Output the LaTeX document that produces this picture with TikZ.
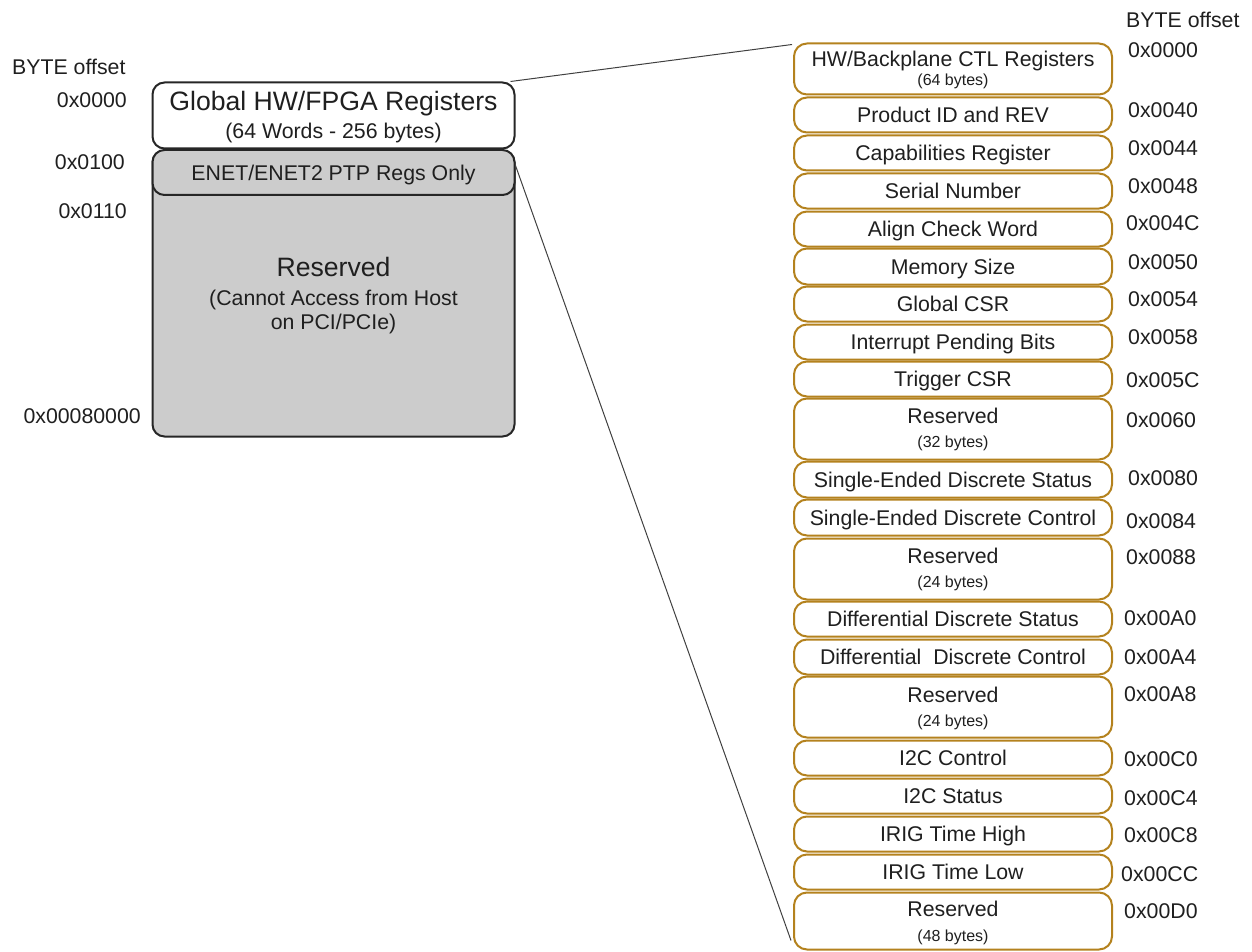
\documentclass[tikz,border=0pt]{standalone}
\usepackage{fontspec}
\setmainfont{Liberation Sans}
\definecolor{gold}{RGB}{180,130,30}
\definecolor{boxgray}{RGB}{204,204,204}
\begin{document}
\begin{tikzpicture}[x=1pt,y=-1pt,
  fm/.style={font=\fontsize{21.3}{25}\selectfont},
  fb/.style={font=\fontsize{26.6}{30}\selectfont},
  fsm/.style={font=\fontsize{16}{19}\selectfont},
  reg/.style={draw=gold, line width=2pt, rounded corners=13pt, fill=white, minimum width=318pt, inner sep=0pt, fm, text height=15.3pt, text depth=0pt, text=black!88},
  lbox/.style={draw=black!85, line width=2pt, rounded corners=12pt, minimum width=362pt, inner sep=0pt, text=black!88},
  off/.style={fm, inner sep=0pt, anchor=base west, text=black!88},
  loff/.style={fm, inner sep=0pt, anchor=base east, text=black!88},
  txt/.style={inner sep=0pt, anchor=base, text=black!88},
  link/.style={draw=black!75, line width=1pt}
]
\useasboundingbox (0,0) rectangle (1252,952);

% ---------- left panel ----------
\node[lbox, fill=boxgray, minimum height=286pt] (res) at (333.5,293.5) {};
\node[lbox, fill=boxgray, minimum height=45pt, fm, text height=15.3pt, text depth=0pt] (enet) at (333.5,172.5) {ENET/ENET2 PTP Regs Only};
\node[lbox, fill=white, minimum height=66pt] (glob) at (333.5,115.5) {};
\node[txt, fb] (globt) at (333.5,110.5) {Global HW/FPGA Registers};
\node[txt, fm] (globs) at (333.5,139) {(64 Words - 256 bytes)};
\node[txt, fb] (rest) at (333.5,276) {Reserved};
\node[txt, fm] (ress1) at (333.5,305.5) {(Cannot Access from Host};
\node[txt, fm] (ress2) at (333.5,329.5) {on PCI/PCIe)};

\node[off] (lbyte) at (12,74.6) {BYTE offset};
\node[loff] (lo1) at (127,107.6) {0x0000};
\node[loff] (lo2) at (125,169.6) {0x0100};
\node[loff] (lo3) at (127,218.6) {0x0110};
\node[loff] (lo4) at (141,423.6) {0x00080000};

% ---------- right panel ----------
\node[reg, minimum height=51pt] (r1) at (953,69) {};
\node[txt, fm] (r1a) at (953,66.5) {HW/Backplane CTL Registers};
\node[txt, fsm] (r1b) at (953,86) {(64 bytes)};
\node[reg, minimum height=35pt] (r2) at (953,115) {Product ID and REV};
\node[reg, minimum height=35pt] (r3) at (953,153) {Capabilities Register};
\node[reg, minimum height=35pt] (r4) at (953,191) {Serial Number};
\node[reg, minimum height=35pt] (r5) at (953,229) {Align Check Word};
\node[reg, minimum height=36pt] (r6) at (953,266.5) {Memory Size};
\node[reg, minimum height=35pt] (r7) at (953,304) {Global CSR};
\node[reg, minimum height=35pt] (r8) at (953,342) {Interrupt Pending Bits};
\node[reg, minimum height=35pt] (r9) at (953,379) {Trigger CSR};
\node[reg, minimum height=61pt] (r10) at (953,429) {};
\node[txt, fm] (r10a) at (953,423) {Reserved};
\node[txt, fsm] (r10b) at (953,447) {(32 bytes)};
\node[reg, minimum height=36pt] (r11) at (953,479.5) {Single-Ended Discrete Status};
\node[reg, minimum height=36pt] (r12) at (953,517.5) {Single-Ended Discrete Control};
\node[reg, minimum height=61pt] (r13) at (953,569) {};
\node[txt, fm] (r13a) at (953,563) {Reserved};
\node[txt, fsm] (r13b) at (953,587) {(24 bytes)};
\node[reg, minimum height=35pt] (r14) at (953,619) {Differential Discrete Status};
\node[reg, minimum height=35pt] (r15) at (953,657) {Differential\ \ Discrete Control};
\node[reg, minimum height=61pt] (r16) at (953,707) {};
\node[txt, fm] (r16a) at (953,702) {Reserved};
\node[txt, fsm] (r16b) at (953,726) {(24 bytes)};
\node[reg, minimum height=35pt] (r17) at (953,758) {I2C Control};
\node[reg, minimum height=35pt] (r18) at (953,796) {I2C Status};
\node[reg, minimum height=35pt] (r19) at (953,834) {IRIG Time High};
\node[reg, minimum height=35pt] (r20) at (953,872) {IRIG Time Low};
\node[reg, minimum height=57pt] (r21) at (953,921) {};
\node[txt, fm] (r21a) at (953,916) {Reserved};
\node[txt, fsm] (r21b) at (953,941.5) {(48 bytes)};

\node[off] (rbyte) at (1126,27.6) {BYTE offset};
\node[off] (o1) at (1128,57.6) {0x0000};
\node[off] (o2) at (1128,117.6) {0x0040};
\node[off] (o3) at (1128,155.6) {0x0044};
\node[off] (o4) at (1128,193.6) {0x0048};
\node[off] (o5) at (1126,230.6) {0x004C};
\node[off] (o6) at (1128,269.6) {0x0050};
\node[off] (o7) at (1128,306.6) {0x0054};
\node[off] (o8) at (1128,344.6) {0x0058};
\node[off] (o9) at (1126,387.6) {0x005C};
\node[off] (o10) at (1126,427.6) {0x0060};
\node[off] (o11) at (1128,485.6) {0x0080};
\node[off] (o12) at (1126,528.6) {0x0084};
\node[off] (o13) at (1126,564.6) {0x0088};
\node[off] (o14) at (1124,625.6) {0x00A0};
\node[off] (o15) at (1124,664.6) {0x00A4};
\node[off] (o16) at (1124,701.6) {0x00A8};
\node[off] (o17) at (1124,766.6) {0x00C0};
\node[off] (o18) at (1124,805.6) {0x00C4};
\node[off] (o19) at (1124,842.6) {0x00C8};
\node[off] (o20) at (1121,881.6) {0x00CC};
\node[off] (o21) at (1124,918.6) {0x00D0};

% ---------- connectors ----------
\coordinate (g1) at ([xshift=-5pt]glob.north east);
\coordinate (e1) at ([yshift=7pt]enet.east);
\coordinate (h1) at ([xshift=-1pt,yshift=-2pt]r1.north west);
\coordinate (h2) at ([xshift=-2pt,yshift=10pt]r21.south west);
\draw[link] (g1) -- (h1);
\draw[link] (e1) -- (h2);
\end{tikzpicture}
\end{document}
